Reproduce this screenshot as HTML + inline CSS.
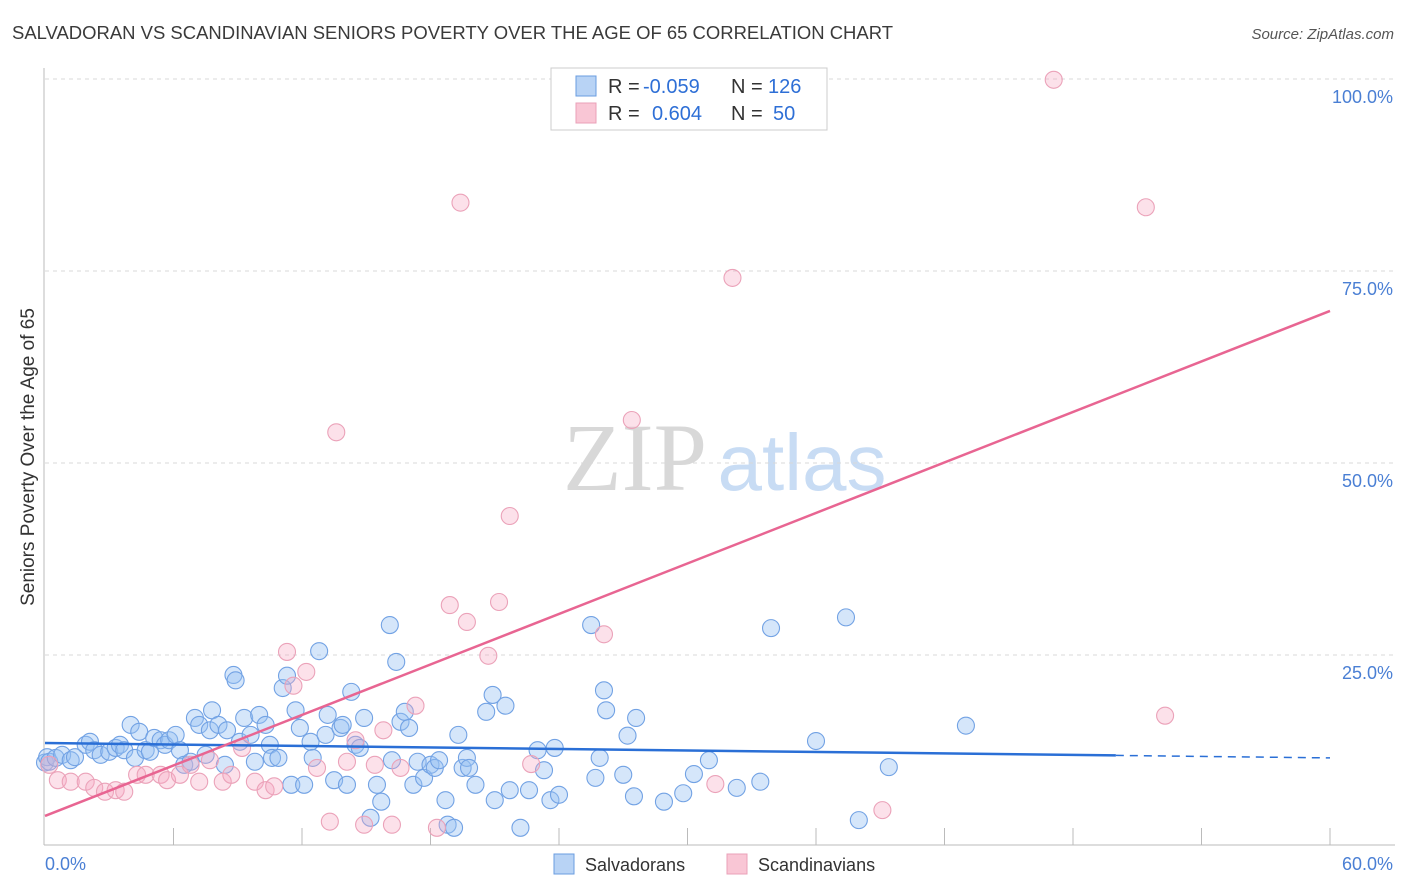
<!DOCTYPE html>
<html><head><meta charset="utf-8"><style>
body{margin:0;background:#fff;font-family:"Liberation Sans",sans-serif}
svg{display:block}
</style></head><body>
<svg id="c" width="1406" height="892" xmlns="http://www.w3.org/2000/svg">
<text x="12" y="39" font-size="18" fill="#3a3a3a" textLength="881" lengthAdjust="spacingAndGlyphs">SALVADORAN VS SCANDINAVIAN SENIORS POVERTY OVER THE AGE OF 65 CORRELATION CHART</text>
<text x="1394" y="39" font-size="15" fill="#555" font-style="italic" text-anchor="end">Source: ZipAtlas.com</text>
<g>
<text x="635" y="490" font-size="96" fill="#d8d8d8" font-family="Liberation Serif,serif" text-anchor="middle">ZIP</text>
<text x="802" y="490" font-size="80" fill="#c8dcf4" text-anchor="middle">atlas</text>
</g>
<g id="grid"></g>
<g id="axes"></g>
<g id="pts"></g>
<g id="lines"></g>
<text transform="translate(34,457) rotate(-90)" font-size="19" fill="#333" text-anchor="middle">Seniors Poverty Over the Age of 65</text>
<text x="45" y="870" font-size="18" fill="#4a7fd4">0.0%</text>
<text x="1393" y="870" font-size="18" fill="#4a7fd4" text-anchor="end">60.0%</text>
<g>
<rect x="551" y="68" width="276" height="62" fill="#fff" stroke="#ccc"/>
<rect x="576" y="76" width="20" height="20" fill="#b8d3f5" stroke="#6a9de0"/>
<rect x="576" y="103" width="20" height="20" fill="#f9c6d5" stroke="#eaa0b8"/>
<g font-size="20" fill="#333">
<text x="608" y="93">R =</text><text x="643" y="93" fill="#2e6fd6">-0.059</text>
<text x="731" y="93">N =</text><text x="768" y="93" fill="#2e6fd6">126</text>
<text x="608" y="120">R =</text><text x="652" y="120" fill="#2e6fd6">0.604</text>
<text x="731" y="120">N =</text><text x="773" y="120" fill="#2e6fd6">50</text>
</g>
</g>
<g>
<rect x="554" y="854" width="20" height="20" fill="#b8d3f5" stroke="#6a9de0"/>
<text x="585" y="871" font-size="18" fill="#333">Salvadorans</text>
<rect x="727" y="854" width="20" height="20" fill="#f9c6d5" stroke="#eaa0b8"/>
<text x="758" y="871" font-size="18" fill="#333">Scandinavians</text>
</g>
</svg>
<script>
const yTicks=[25,50,75,100];
const yTickLabels=["25.0%","50.0%","75.0%","100.0%"];
const xTicks=[6,12,18,24,30,36,42,48,54,60];
const blueX=[0,0.1,0.2,0.5,0.8,1.2,1.4,1.9,2.1,2.3,2.6,3.0,3.3,3.5,3.7,4.0,4.2,4.4,4.7,4.9,5.1,5.4,5.6,5.8,6.1,6.3,6.5,6.8,7.0,7.2,7.5,7.7,7.8,8.1,8.4,8.5,8.8,8.9,9.1,9.3,9.6,9.8,10.0,10.3,10.5,10.6,10.9,11.1,11.3,11.5,11.7,11.9,12.1,12.4,12.5,12.8,13.1,13.2,13.5,13.8,13.9,14.1,14.3,14.5,14.7,14.9,15.2,15.5,15.7,16.1,16.2,16.4,16.6,16.8,17.0,17.2,17.4,17.7,18.0,18.2,18.4,18.7,18.8,19.1,19.3,19.5,19.7,19.8,20.1,20.6,20.9,21.0,21.5,21.7,22.2,22.6,23.0,23.3,23.6,23.8,24.0,25.5,25.7,25.9,26.1,26.2,27.0,27.2,27.5,27.6,28.9,29.8,30.3,31.0,32.3,33.4,33.9,36.0,37.4,38.0,39.4,43.0];
const blueY=[11,11.7,11.1,11.6,12.0,11.3,11.7,13.3,13.7,12.6,12.0,12.4,12.9,13.3,12.6,15.9,11.6,15.0,12.6,12.4,14.2,13.9,13.3,13.9,14.6,12.6,10.7,11.1,16.8,15.9,12.0,15.2,17.8,15.9,10.7,15.2,22.4,21.7,13.7,16.8,14.6,11.1,17.2,15.9,13.3,11.6,11.6,20.7,22.3,8.1,17.8,15.5,8.1,13.7,11.6,25.5,14.6,17.2,8.7,15.5,15.9,8.1,20.2,13.3,12.9,16.8,3.8,8.1,5.9,28.9,11.3,24.1,16.3,17.6,15.5,8.1,11.1,9.0,10.7,10.3,11.3,6.1,2.9,2.5,14.6,10.3,11.6,10.3,8.1,17.6,19.8,6.1,18.4,7.4,2.5,7.4,12.6,10.0,6.1,12.9,6.8,28.9,9.0,11.6,20.4,17.8,9.4,14.5,6.6,16.8,5.9,7.0,9.5,11.3,7.7,8.5,28.5,13.8,29.9,3.5,10.4,15.8];
const pinkX=[0.2,0.6,1.2,1.9,2.3,2.8,3.3,3.7,4.3,4.7,5.4,5.7,6.3,6.8,7.2,7.7,8.3,8.7,9.2,9.8,10.3,10.7,11.3,11.6,12.2,12.7,13.3,13.6,14.1,14.5,14.9,15.4,15.8,16.2,16.6,17.3,18.3,18.9,19.4,19.7,20.7,21.2,21.7,22.7,26.1,27.4,31.3,32.1,39.1,47.1,51.4,52.3];
const pinkY=[10.7,8.7,8.5,8.5,7.7,7.2,7.4,7.2,9.4,9.4,9.4,8.7,9.4,10.7,8.5,11.3,8.5,9.4,12.9,8.5,7.4,7.9,25.4,21.0,22.8,10.3,3.3,54.0,11.1,13.9,2.9,10.7,15.2,2.9,10.3,18.4,2.5,31.5,83.9,29.3,24.9,31.9,43.1,10.8,27.7,55.6,8.2,74.1,4.8,99.9,83.3,17.1];
const blueTrend=[13.54,11.6];
const pinkTrend=[4.04,69.8];
const NS="http://www.w3.org/2000/svg";
const X0=45,X1=1330,Y0=847,PY=7.68;
const sx=v=>X0+(X1-X0)*v/60;
const sy=v=>Y0-v*PY;
function mk(t,p,a){const e=document.createElementNS(NS,t);for(const k in a)e.setAttribute(k,a[k]);p.appendChild(e);return e;}
const grid=document.getElementById('grid'),axes=document.getElementById('axes'),pts=document.getElementById('pts'),lines=document.getElementById('lines');
yTicks.forEach((t,i)=>{
 const l=mk('line',grid,{x1:X0,x2:1395,y1:sy(t),y2:sy(t),stroke:'#d8d8d8','stroke-dasharray':'4,4'});
 
 
 const tx=mk('text',grid,{x:1393,y:sy(t)+24,'font-size':18,fill:'#4a7fd4','text-anchor':'end'});
 tx.textContent=yTickLabels[i];
 
 
});
let a=mk('line',axes,{x1:44,x2:44,y1:68,y2:845,stroke:'#bbb'});


a=mk('line',axes,{x1:44,x2:1395,y1:845,y2:845,stroke:'#bbb'});


xTicks.forEach(t=>{
 const l=mk('line',axes,{x1:sx(t),x2:sx(t),y1:828,y2:845,stroke:'#bbb'});
 
 
});
blueX.forEach((v,i)=>{
 const c=mk('circle',pts,{cx:sx(v),cy:sy(blueY[i]),r:8.5,fill:'rgba(150,192,242,0.4)',stroke:'#72a2e4','stroke-width':1.1});
 
 
});
pinkX.forEach((v,i)=>{
 const c=mk('circle',pts,{cx:sx(v),cy:sy(pinkY[i]),r:8.5,fill:'rgba(245,170,195,0.35)',stroke:'#eba2b9','stroke-width':1.1});
 
 
});
const bAt=x=>blueTrend[0]+(blueTrend[1]-blueTrend[0])*x/60;
let t=mk('line',lines,{x1:sx(0),y1:sy(bAt(0)),x2:sx(50),y2:sy(bAt(50)),stroke:'#2a6fd6','stroke-width':2.5});


t=mk('line',lines,{x1:sx(50),y1:sy(bAt(50)),x2:sx(60),y2:sy(bAt(60)),stroke:'#2a6fd6','stroke-width':1.5,'stroke-dasharray':'8,6'});


t=mk('line',lines,{x1:sx(0),y1:sy(pinkTrend[0]),x2:sx(60),y2:sy(pinkTrend[1]),stroke:'#e86592','stroke-width':2.5});


</script>
</body></html>
